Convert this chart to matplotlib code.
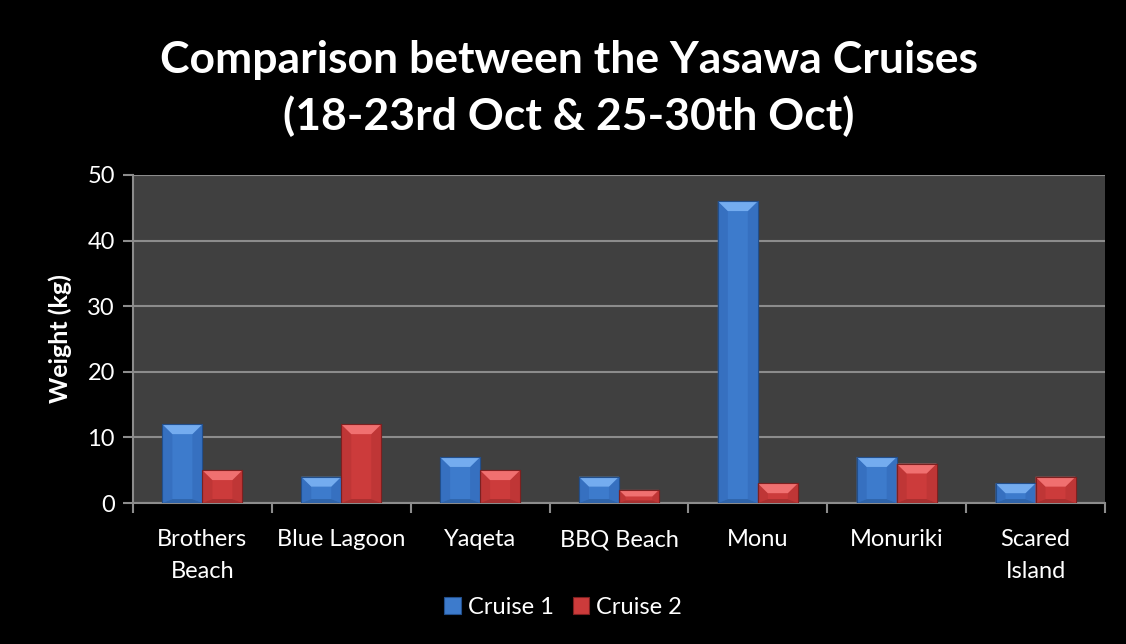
import matplotlib
matplotlib.use("Agg")
import matplotlib.pyplot as plt
from matplotlib.patches import Polygon, Rectangle
import numpy as np

categories = ["Brothers\nBeach", "Blue Lagoon", "Yaqeta", "BBQ Beach",
              "Monu", "Monuriki", "Scared\nIsland"]
cruise1 = [12, 4, 7, 4, 46, 7, 3]
cruise2 = [5, 12, 5, 2, 3, 6, 4]
series_names = ["Cruise 1", "Cruise 2"]

plt.rcParams["font.family"] = ["Lato", "DejaVu Sans"]

BLUE = dict(face="#3d7bcc", top="#74acef", side="#3670c0", bottom="#2f64aa", edge="#224f8c")
RED = dict(face="#cc3b3b", top="#f07070", side="#bf3636", bottom="#a83030", edge="#7d2020")

fig = plt.figure(figsize=(11.26, 6.44), dpi=100)
fig.patch.set_facecolor("black")
ax = fig.add_axes([0.1181, 0.2189, 0.8632, 0.5094])
ax.set_facecolor("#404040")

x = np.arange(len(categories))
w = 0.288
bars1 = ax.bar(x - w / 2, cruise1, w, color=BLUE["face"], edgecolor=BLUE["edge"],
               linewidth=0.8, zorder=3, label=series_names[0])
bars2 = ax.bar(x + w / 2, cruise2, w, color=RED["face"], edgecolor=RED["edge"],
               linewidth=0.8, zorder=3, label=series_names[1])

ax.set_xlim(-0.5, len(categories) - 0.5)
ax.set_ylim(0, 50)


def bevel(bar, c):
    # light top facet and slightly shaded sides, sized in data units
    x0, y0 = bar.get_x(), bar.get_y()
    bw, bh = bar.get_width(), bar.get_height()
    full = 1.5
    by = min(full, bh / 2)
    bxx = 0.072 * by / full
    byb = by * 0.4
    top = Polygon([(x0, y0 + bh), (x0 + bw, y0 + bh),
                   (x0 + bw - bxx, y0 + bh - by), (x0 + bxx, y0 + bh - by)],
                  closed=True, facecolor=c["top"], edgecolor="none", zorder=4)
    left = Polygon([(x0, y0), (x0, y0 + bh), (x0 + bxx, y0 + bh - by), (x0 + bxx, y0 + byb)],
                   closed=True, facecolor=c["side"], edgecolor="none", zorder=4)
    right = Polygon([(x0 + bw, y0), (x0 + bw, y0 + bh), (x0 + bw - bxx, y0 + bh - by),
                     (x0 + bw - bxx, y0 + byb)],
                    closed=True, facecolor=c["side"], edgecolor="none", zorder=4)
    bot = Polygon([(x0, y0), (x0 + bw, y0), (x0 + bw - bxx, y0 + byb), (x0 + bxx, y0 + byb)],
                  closed=True, facecolor=c["bottom"], edgecolor="none", zorder=4)
    for p in (left, right, bot, top):
        ax.add_patch(p)
    ax.add_patch(Rectangle((x0, y0), bw, bh, facecolor="none", edgecolor=c["edge"],
                           linewidth=0.8, zorder=5))


for b in bars1:
    bevel(b, BLUE)
for b in bars2:
    bevel(b, RED)

ax.set_yticks(range(0, 51, 10))
ax.yaxis.grid(True, color="#8c8c8c", linewidth=1.5, zorder=1)
ax.set_axisbelow(True)

ax.set_xticks(x)
ax.set_xticklabels(categories, fontsize=17, color="white", linespacing=1.6)
ax.set_xticks(np.arange(-0.5, len(categories)), minor=True)
ax.tick_params(axis="x", which="major", length=0, pad=19)
ax.tick_params(axis="x", which="minor", length=7, width=1.5, color="#8c8c8c", direction="out")
ax.tick_params(axis="y", length=7, width=1.5, color="#8c8c8c", labelcolor="white",
               labelsize=17, direction="out", pad=6)

for s in ("top", "right"):
    ax.spines[s].set_visible(False)
for s in ("left", "bottom"):
    ax.spines[s].set_color("#8c8c8c")
    ax.spines[s].set_linewidth(1.5)

ax.set_ylabel("Weight (kg)", color="white", fontsize=18, fontweight="bold", labelpad=11)

fig.text(0.505, 0.863, "Comparison between the Yasawa Cruises\n(18-23rd Oct & 25-30th Oct)",
         ha="center", va="center", color="white", fontsize=32, fontweight="bold",
         linespacing=1.45)

leg = fig.legend(handles=[bars1, bars2], labels=series_names, loc="center",
                 bbox_to_anchor=(0.5, 0.057), ncol=2, frameon=False, fontsize=17,
                 handlelength=0.7, handleheight=0.7, handletextpad=0.3, columnspacing=0.8,
                 labelcolor="white")

fig.savefig("out.png", facecolor=fig.get_facecolor())
